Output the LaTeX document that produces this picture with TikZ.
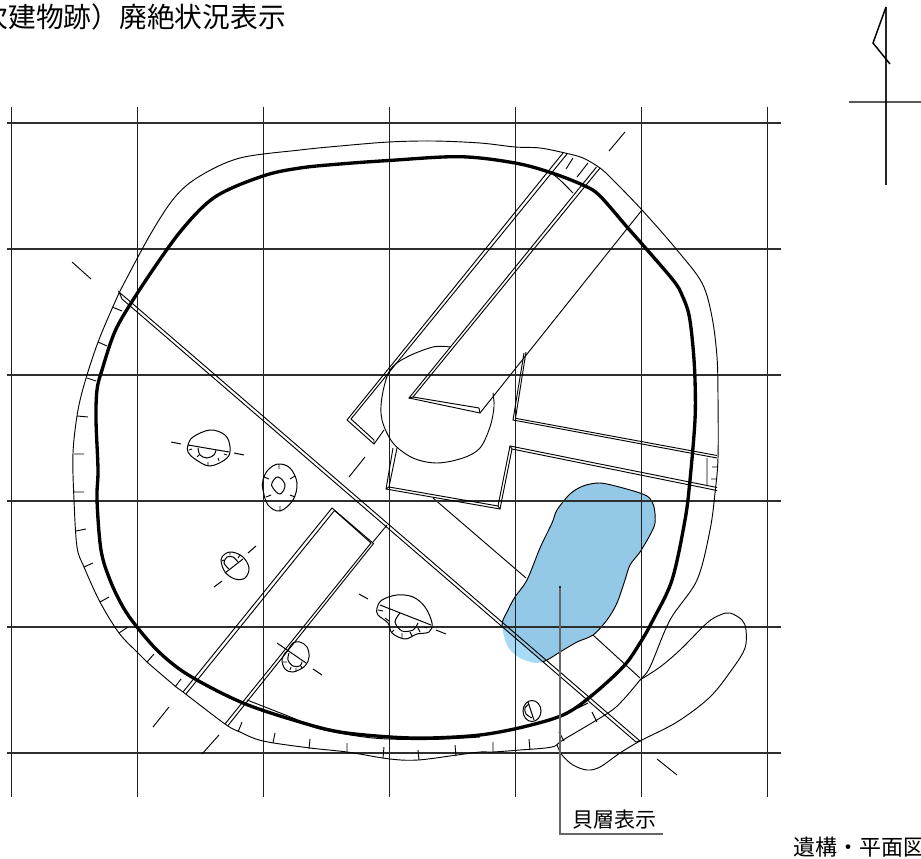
\documentclass[tikz,border=0pt]{standalone}
\usepackage{fontspec}
\setmainfont{Noto Sans CJK JP}
\tikzset{
  gridv/.style={line width=1.2pt,black!88},
  gridh/.style={line width=1.25pt,black!82},
  thinl/.style={line width=0.7pt,black,line join=miter},
  pitl/.style={line width=0.75pt,black},
  heavy/.style={line width=2.5pt,black,line join=round},
  tickl/.style={line width=0.7pt,black},
  leader/.style={line width=1pt,black!60},
  smoothy/.style={smooth,tension=0.55},
}
\begin{document}
\begin{tikzpicture}[x=0.75pt,y=-0.75pt]
\useasboundingbox (0,0) rectangle (921,859);
\clip (0,0) rectangle (921,859);
% cut line hidden by the shell layer
\coordinate (cutA) at (433,498);
\coordinate (cutB) at (526,578);
\coordinate (cutC) at (593,635);
\coordinate (cutD) at (640,678);
\draw[thinl] (cutA) -- (cutB) (cutC) -- (cutD);
% shell layer
\def\shellshape{plot[smooth cycle,tension=0.5] coordinates {(552,523)(557,510)(570,494)(583,486)(600,483)(623,488)(647,496)(654,507)(655,523)(650,535)(640,552)(630,565)(625,580)(617,603)(607,620)(593,635)(577,642)(560,652)(547,660)(536,663)(520,658)(508,647)(502,625)(508,610)(515,597)(527,580)(540,548)}}
\fill[fill={rgb,255:red,166;green,218;blue,245}] \shellshape;
\begin{scope}
\clip (470,599.4) -- (660,763.3) -- (720,763) -- (720,460) -- (470,460) -- cycle;
\fill[fill={rgb,255:red,147;green,200;blue,230}] \shellshape;
\draw[thinl] \shellshape;
\end{scope}
% grid
\foreach \gx/\gn in {11/a,137/b,263/c,389/d,515/e,641/f,767/g}{
  \coordinate (gt\gn) at (\gx+.3,107);
  \coordinate (gb\gn) at (\gx+.3,797);
  \draw[gridv] (gt\gn) -- (gb\gn);
}
\foreach \gy/\gn in {123/a,249/b,375/c,501/d,627/e,753/f}{
  \coordinate (gl\gn) at (7,\gy-.3);
  \coordinate (gr\gn) at (781,\gy-.3);
  \draw[gridh] (gl\gn) -- (gr\gn);
}
% inner thick outline
\draw[heavy] plot[smoothy] coordinates {(146,280)(180,232)(215,197)(263,176)(300,168)(340,164)(389,160.5)(460,156.7)(515,163)(552,173)(585,186)(600,196)(627,227)(642,244)(673,280)(682,295)(689,315)(693,347)(695,380)(695,420)(690,480)(685,520)(672,580)(653,620)(640,643)(623,667)(590,697)(563,715)(523,727)(480,735)(430,738)(390,737)(340,732)(300,722)(243,703)(190,676)(160,653)(137,627)(123,607)(110,580)(101,550)(97,500)(98,470)(96,420)(97,390)(102,370)(117,327)(146,280)};
% outer thin outline
\draw[thinl] plot[smoothy] coordinates {(119,293)(150,235)(175,197)(200,176)(240,158)(300,150)(340,146)(389,142)(433,141)(480,143)(515,147)(540,148)(565,153)(583,158)(600,168)(613,180)(642,210)(677,250)(702,283)(712,317)(717,357)(718,397)(718,458)(715,493)(710,530)(697,580)(670,620)(650,667)(640,680)(623,700)(608,713)(563,740)(552,747)(520,750)(493,752)(480,752)(457,755)(418,760)(390,759)(347,752)(310,748)(263,741)(240,732)(225,724)(183,692)(175,686)(147,662)(137,652)(119,633)(100,602)(84,567)(77,547)(74,500)(73,453)(78,410)(87,375)(100,337)(119,293)};
% lobe at lower right
\draw[thinl] plot[smoothy] coordinates {(640,680)(660,667)(680,650)(707,623)(720,615)(730,613)(742,620)(746,630)(745,648)(733,668)(710,697)(677,722)(640,741)(620,753)(600,767)(587,770)(573,765)(562,755)(557,745)};
% line running beside the thick outline
\draw[thinl] plot[smoothy] coordinates {(247,700)(293,718)(320,729)(373,738)(430,739.5)(480,737)};
% small arc under trench
\draw[thinl] plot[smoothy] coordinates {(550,172)(560,180)(573,193)};
% long diagonal trench
\draw[thinl] (119,292) -- (640,741) -- (636,742) -- (122,299) -- cycle;
% trench north-east
\draw[thinl] (563,153) -- (347,420) -- (374,444) -- (384,430);
\draw[thinl] (567,154) -- (351,419) -- (374,440) -- (374,444);
\draw[thinl] (596.5,167) -- (409,398) -- (480,413) -- (642,210);
\draw[thinl] (600,168) -- (413,397) -- (479,408) -- (480,413);
\draw[thinl] (409,398) -- (413,397);
% L trench east
\draw[thinl] (524,353) -- (513,420) -- (717,458);
\draw[thinl] (526,352) -- (515.5,418.3) -- (717,455.5);
\draw[thinl] (717,487.5) -- (510,446) -- (498,506) -- (389,487) -- (397,448);
\draw[thinl] (717,490.5) -- (512,449) -- (500,509) -- (386,489) -- (393,448);
\draw[thinl] (386,489) -- (389,487) (498,506) -- (500,509) (510,446) -- (512,449);
% central pit
\draw[thinl] plot[smoothy] coordinates {(450,347)(433,347)(407,357)(390,370)(382,397)(382,420)(393,443)(413,458)(437,463)(463,458)(480,448)(490,427)(494,407)(493,393)};
% trench south-west
\draw[thinl] (183,692) -- (332,508) -- (373.5,543.5) -- (228,725.5);
\draw[thinl] (186,694) -- (334.5,510.5) -- (371,543) -- (225,724);
\draw[thinl] (373,542) -- (387,525);
% ticks on bank
\draw[tickl] (566,169) -- (573,158) (577,177) -- (588,163)
 (112,307) -- (122,311) (98,342) -- (107,346) (87,378) -- (96,381) (77,416) -- (88,417) (74,454) -- (84,454) (74,492) -- (84,492) (76,531) -- (86,529) (84,567) -- (93,563) (100,602) -- (109,597) (119,633) -- (128,627) (147,662) -- (154,654) (175,687) -- (181,679)
 (242,722) -- (238,732) (275,733) -- (273,743) (310,739) -- (309,749) (347,743) -- (347,753) (384,747) -- (383,758) (418,750) -- (419,760) (455,745) -- (456,756) (493,742) -- (493,752) (529,739) -- (530,750) (559,732) -- (564,741) (592,712) -- (597,722) (578,708) -- (588,703)
 (712,467) -- (717,467) (711,479) -- (717,479) (707,458) -- (707,485);
% section marks
\draw[tickl] (609,151) -- (625,132) (72,262) -- (91,279) (349,477) -- (365,457) (153,727) -- (169,707) (202,754) -- (219,735) (657,759) -- (677,775);
% pit 1
\draw[pitl] plot[smooth cycle,tension=.6] coordinates {(188,445)(193,437)(210,430)(225,435)(230,447)(227,458)(210,466)(195,459)(188,452)};
\draw[pitl] (188,445) -- (229,452) (171,442) -- (181,444) (234,453) -- (244,455);
\draw[pitl] plot[smoothy] coordinates {(198,448)(200,455)(207,458)(214,455)(216,450)};
\draw[tickl] (189,450) -- (192,449) (197,457) -- (199,455) (208,465) -- (208,462) (219,461) -- (218,458) (224,454) -- (227,455);
% pit 2
\draw[pitl] plot[smooth cycle,tension=.6] coordinates {(263,480)(268,470)(278,464)(290,468)(297,483)(293,500)(280,511)(268,505)(263,490)};
\draw[pitl] plot[smooth cycle,tension=.7] coordinates {(278,477)(285,485)(280,494)(273,488)(272,483)};
\draw[tickl] (279,464) -- (279,469) (280,506) -- (280,511) (264,477) -- (269,479) (290,479) -- (295,476) (266,497) -- (271,495) (290,495) -- (295,497);
% pit 3
\draw[pitl] plot[smooth cycle,tension=.6] coordinates {(221,560)(225,554)(232,552)(243,557)(249,568)(245,578)(235,579)(225,572)};
\draw[pitl] (225,573) -- (243,559) (248,553) -- (256,546) (214,587) -- (222,581);
\draw[pitl] plot[smoothy] coordinates {(229,569)(224,563)(227,557)(233,557)(238,562)};
\draw[tickl] (230,552) -- (230,555) (240,555) -- (238,558) (222,561) -- (224,560);
% pit 4
\draw[pitl] plot[smooth cycle,tension=.6] coordinates {(377,608)(382,600)(397,595)(413,597)(425,607)(432,623)(429,632)(417,634)(405,639)(392,633)(388,623)(378,615)};
\draw[pitl] (380,605) -- (431,625) (359,594) -- (368,599) (436,630) -- (446,634);
\draw[pitl] plot[smoothy] coordinates {(400,613)(395,622)(402,631)(413,630)(418,623)};
\draw[tickl] (378,610) -- (383,611) (385,618) -- (389,621) (392,632) -- (394,630) (402,633) -- (402,638) (410,632) -- (412,636) (420,632) -- (418,628) (427,628) -- (424,627);
% pit 5
\draw[pitl] plot[smooth cycle,tension=.6] coordinates {(288,650)(293,643)(300,642)(307,647)(309,657)(305,666)(293,672)(285,669)(282,660)(285,653)};
\draw[pitl] (277,643) -- (306,663) (313,669) -- (322,675);
\draw[pitl] plot[smoothy] coordinates {(289,653)(288,660)(293,666)(300,666)(302,662)};
\draw[tickl] (283,662) -- (287,662) (290,670) -- (291,667) (296,672) -- (296,668) (302,669) -- (301,666);
% pit 6
\draw[pitl] (532,711) ellipse [x radius=9,y radius=10.5];
\draw[pitl] (528,702) -- (534,720);
\draw[pitl] plot[smoothy] coordinates {(529,704)(525,708)(526,714)(532,718)};
% leader and labels
\coordinate (leadtop) at (560,587);
\coordinate (leadcorner) at (560,834);
\coordinate (leadend) at (663,834);
\draw[leader] (leadtop) -- (leadcorner) -- (leadend);
\fill[black] (leadtop) circle [radius=1.2];
\node[anchor=west,inner sep=0pt,font=\fontsize{15.75pt}{16pt}\selectfont] (shell) at (572,820) {貝層表示};
\node[anchor=west,inner sep=0pt,font=\fontsize{16.5pt}{17pt}\selectfont] (plantitle) at (793,847) {遺構・平面図};
\node[anchor=west,inner sep=0pt,font=\fontsize{20.8pt}{21pt}\selectfont] (title) at (-19.5,17) {次建物跡）廃絶状況表示};
% north mark
\coordinate (nt) at (886,7);
\coordinate (nb) at (886,185);
\coordinate (nf) at (873,43);
\coordinate (ne) at (890,64);
\coordinate (el) at (849,102);
\coordinate (er) at (921,102);
\draw[line width=1.2pt,black!85] (nt) -- (nb);
\draw[line width=1.1pt,black] (nt) -- (nf) -- (ne) (el) -- (er);
\end{tikzpicture}
\end{document}
